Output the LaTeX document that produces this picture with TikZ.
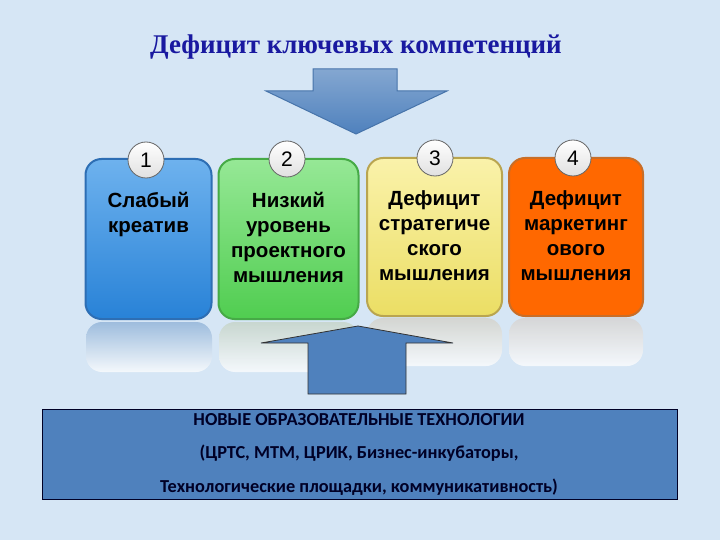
\documentclass[tikz,border=0pt]{standalone}
\usepackage{fontspec}
\setmainfont{Liberation Sans}
\newfontfamily\titlefont{Liberation Serif}
\newfontfamily\calfont{Carlito}
\usetikzlibrary{shapes.geometric}
\definecolor{bgblue}{RGB}{214,230,245}
\definecolor{titleblue}{RGB}{25,25,160}
\definecolor{arrowblue}{RGB}{79,129,189}
\definecolor{bluetop}{RGB}{110,178,238}
\definecolor{bluebot}{RGB}{40,130,215}
\definecolor{blueedge}{RGB}{45,110,180}
\definecolor{greentop}{RGB}{150,232,150}
\definecolor{greenbot}{RGB}{80,205,80}
\definecolor{greenedge}{RGB}{70,170,70}
\definecolor{yeltop}{RGB}{250,242,170}
\definecolor{yelbot}{RGB}{235,222,100}
\definecolor{yeledge}{RGB}{185,165,80}
\definecolor{orange4}{RGB}{255,104,0}
\definecolor{orangeedge}{RGB}{200,110,40}
\tikzset{
  card/.style={draw, line width=2pt, rounded corners=16pt, align=center,
    font=\fontsize{20.5}{25}\selectfont\bfseries, text=black, inner sep=0pt},
  refl/.style={rounded corners=16pt, opacity=0.75},
  numcirc/.style={circle, draw=black!60, line width=0.8pt, minimum size=36pt, inner sep=0pt,
    top color=white, bottom color=black!12, font=\fontsize{21}{21}\selectfont},
  blockarrow/.style={fill=arrowblue, draw=black!80, line width=0.8pt},
  lowtext/.style={font=\calfont\fontsize{18.3}{18.3}\selectfont\bfseries, text=black!85!blue},
}
\begin{document}
\begin{tikzpicture}[x=1pt,y=-1pt]
\fill[bgblue] (0,0) rectangle (720,540);
\useasboundingbox (0,0) rectangle (720,540);

% title
\node[font=\titlefont\fontsize{27}{27}\selectfont\bfseries, text=titleblue] (title) at (356,47) {Дефицит ключевых компетенций};

% down arrow
\shade[top color=arrowblue!70!white, bottom color=arrowblue, draw=arrowblue!90!black, line width=1pt]
  (313,69) -- (397,69) -- (397,91) -- (447,91) -- (356,134) -- (266,91) -- (313,91) -- cycle;

% reflections
\shade[refl, top color=blueedge!55!white, bottom color=white] (86,322) rectangle (212,372);
\shade[refl, top color=greenedge!35!gray!40!white, bottom color=white] (219,322) rectangle (359,372);
\shade[refl, top color=yeledge!30!gray!40!white, bottom color=white] (367,318) rectangle (502,366);
\shade[refl, top color=orangeedge!15!gray!35!white, bottom color=white] (509,318) rectangle (643,366);

% cards
\node[card, draw=blueedge, top color=bluetop, bottom color=bluebot, minimum width=126pt, minimum height=160pt, anchor=north] (c1) at (148.5,158) {};
\node[card, draw=greenedge, top color=greentop, bottom color=greenbot, minimum width=140pt, minimum height=160pt, anchor=north] (c2) at (288.5,158) {};
\node[card, draw=yeledge, top color=yeltop, bottom color=yelbot, minimum width=135pt, minimum height=158pt, anchor=north] (c3) at (434.5,157) {};
\node[card, draw=orangeedge, fill=orange4, minimum width=134pt, minimum height=158pt, anchor=north] (c4) at (576,157) {};

\node[card, draw=none, anchor=north] (t1) at (148.5,191) {Слабый\\креатив};
\node[card, draw=none, anchor=north] (t2) at (288.5,191) {Низкий\\уровень\\проектного\\мышления};
\node[card, draw=none, anchor=north] (t3) at (434.5,190) {Дефицит\\стратегиче\\ского\\мышления};
\node[card, draw=none, anchor=north] (t4) at (576,190) {Дефицит\\маркетинг\\ового\\мышления};

% number circles
\node[numcirc] (n1) at (146,160) {1};
\node[numcirc] (n2) at (287,159) {2};
\node[numcirc] (n3) at (435,158) {3};
\node[numcirc] (n4) at (573,158) {4};

% up arrow
\draw[blockarrow] (308,394) -- (308,343) -- (261,343) -- (358,326) -- (453,343) -- (406,343) -- (406,394) -- cycle;

% bottom block
\node[draw=black!85!blue, line width=1pt, fill=arrowblue, minimum width=635pt, minimum height=90pt, anchor=north west, inner sep=0pt] (block) at (42,409) {};
\node[lowtext] (l1) at (359,420) {НОВЫЕ ОБРАЗОВАТЕЛЬНЫЕ ТЕХНОЛОГИИ};
\node[lowtext] (l2) at (359,453) {(ЦРТС, МТМ, ЦРИК, Бизнес-инкубаторы,};
\node[lowtext] (l3) at (359,487) {Технологические площадки, коммуникативность)};
\end{tikzpicture}
\end{document}
